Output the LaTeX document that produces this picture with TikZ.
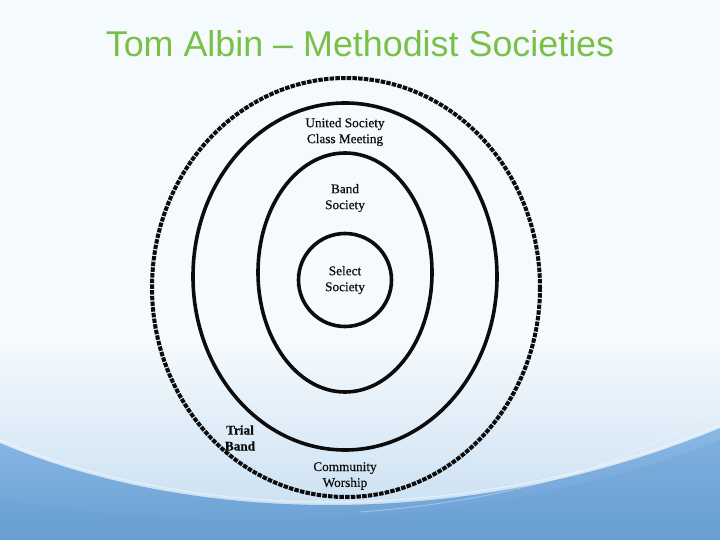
\documentclass[tikz,border=0pt]{standalone}
\usepackage{fontspec}
\setmainfont{Liberation Serif}
\newfontfamily\titlefont{Liberation Sans}
\newfontfamily\lblfont[FakeBold=0.5]{Liberation Serif}
\definecolor{titlegreen}{RGB}{122,192,72}
\definecolor{bgtop}{RGB}{245,250,253}
\definecolor{bgmid}{RGB}{196,220,241}
\definecolor{blueA}{RGB}{138,184,228}
\definecolor{blueB}{RGB}{104,158,211}
\definecolor{inkc}{RGB}{12,12,12}
\begin{document}
\begin{tikzpicture}[x=1bp,y=-1bp,
  ring/.style={line width=3.6bp,draw=inkc},
  dashring/.style={line width=4bp,draw=inkc,dash pattern=on 4.5bp off 1.2bp},
  lbl/.style={font=\lblfont\fontsize{13.3}{16}\selectfont,align=center,text=inkc,inner sep=0pt},
  ttl/.style={font=\titlefont\fontsize{36}{42}\selectfont,text=titlegreen,inner sep=0pt}]
\useasboundingbox (0,0) rectangle (720,540);
% background
\fill[bgtop] (0,0) rectangle (720,540);
\shade[top color=bgtop,bottom color=bgmid] (0,340) rectangle (720,540);
\shade[top color=blueA,bottom color=blueB]
  (0,443) .. controls (200,528) and (480,528) .. (720,428) -- (720,540) -- (0,540) -- cycle;
\fill[blueB,opacity=0.25]
  (0,500) .. controls (250,540) and (520,520) .. (720,440) -- (720,540) -- (0,540) -- cycle;
\draw[white,opacity=0.45,line width=1.2bp] (0,440) .. controls (200,525) and (480,525) .. (720,425);
\draw[white,opacity=0.3,line width=1bp] (360,512) .. controls (520,500) and (640,460) .. (720,405);
% title
\node[ttl] (title) at (360,44) {Tom Albin – Methodist Societies};
% rings
\draw[dashring] (346,287.5) ellipse [x radius=194, y radius=209.5];
\draw[ring] (345,276.5) ellipse [x radius=152, y radius=173.5];
\draw[ring] (345,272.5) ellipse [x radius=87, y radius=119.5];
\draw[ring] (345,280) circle [radius=46.5];
% labels
\node[lbl] (united) at (345,132) {United Society\\Class Meeting};
\node[lbl] (band) at (345,198) {Band\\Society};
\node[lbl] (select) at (345,280) {Select\\Society};
\node[lbl,font=\lblfont\fontsize{13.3}{16}\selectfont\bfseries] (trial) at (240,438) {Trial\\Band};
\node[lbl] (community) at (345,476) {Community\\Worship};
\end{tikzpicture}
\end{document}
